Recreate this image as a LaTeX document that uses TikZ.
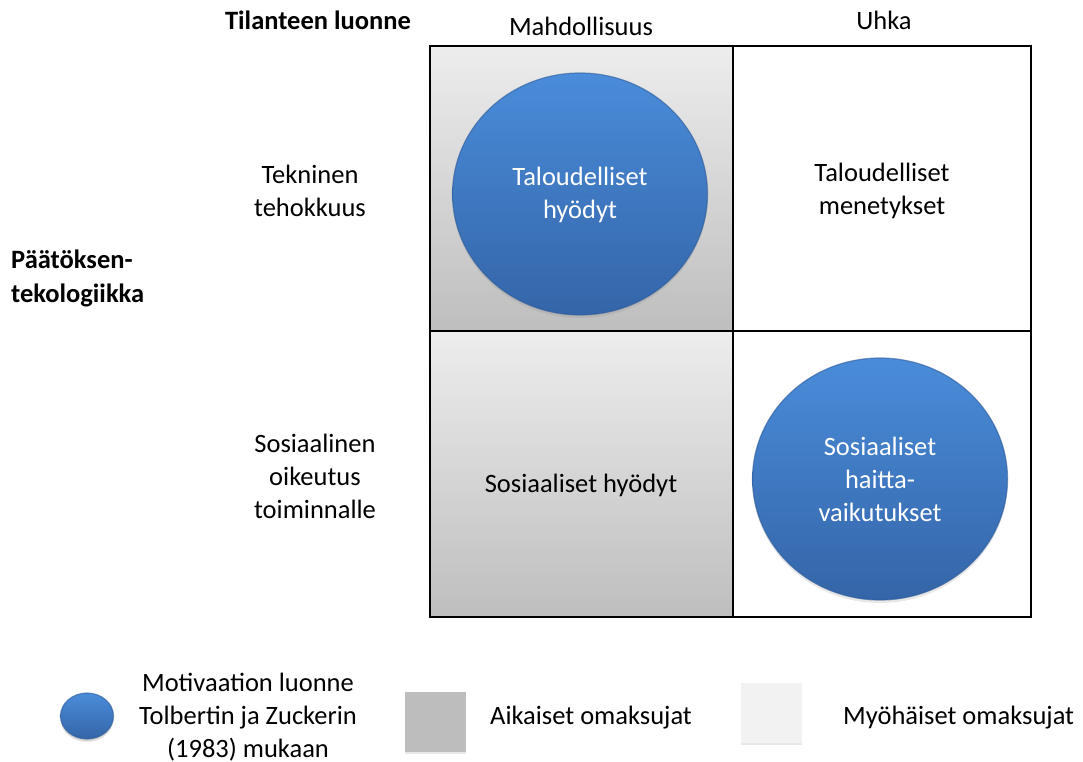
\documentclass[tikz,border=0pt]{standalone}
\usepackage{fontspec}
\setmainfont{Carlito}
\usetikzlibrary{shapes.geometric,shadows}
\definecolor{cellTop}{HTML}{EDEDED}
\definecolor{cellBot}{HTML}{BEBEBE}
\definecolor{ballTop}{HTML}{4A8CDA}
\definecolor{ballBot}{HTML}{3465A8}
\definecolor{ballEdge}{HTML}{2E5C9A}
\definecolor{legDark}{HTML}{BDBDBD}
\definecolor{legLight}{HTML}{F2F2F2}
\tikzset{
  txt/.style={font=\fontsize{26.5}{33}\selectfont, align=center, inner sep=0pt},
  btxt/.style={font=\fontsize{26.5}{34}\selectfont\bfseries, align=left, inner sep=0pt},
  wtxt/.style={txt, text=white},
  cell/.style={draw=none, minimum width=303pt, minimum height=285pt, inner sep=0pt,
    top color=cellTop, bottom color=cellBot},
  ball/.style={ellipse, minimum width=255pt, minimum height=242pt, inner sep=0pt,
    top color=ballTop, bottom color=ballBot, draw=ballEdge, draw opacity=0.6, line width=1.2pt,
    drop shadow={shadow xshift=0pt, shadow yshift=-3pt, opacity=0.18}},
  smallball/.style={ball, minimum width=53pt, minimum height=46pt,
    drop shadow={shadow xshift=0pt, shadow yshift=-2pt, opacity=0.18}},
  legbox/.style={minimum width=61pt, minimum height=60pt, inner sep=0pt, draw=none,
    drop shadow={shadow xshift=0pt, shadow yshift=-2pt, opacity=0.18}},
  gridline/.style={line width=1.6pt, black},
}
\begin{document}
\begin{tikzpicture}[x=1pt, y=-1pt]
\useasboundingbox (0,0) rectangle (1083,762);
\fill[white] (0,0) rectangle (1083,762);
% shaded cells
\node[cell] (c11) at (581.5,188.5) {};
\node[cell] (c21) at (581.5,474) {};
% grid
\coordinate (g00) at (430,46);
\coordinate (g20) at (1031,46);
\coordinate (g01) at (430,331);
\coordinate (g21) at (1031,331);
\coordinate (g02) at (430,617);
\coordinate (g22) at (1031,617);
\coordinate (g10) at (733,46);
\coordinate (g12) at (733,617);
\draw[gridline] (g00) rectangle (g22);
\draw[gridline] (g01) -- (g21);
\draw[gridline] (g10) -- (g12);
% balls
\node[ball] (b1) at (580,194) {};
\node[wtxt] (b1t) at (580,195) {Taloudelliset\\hyödyt};
\node[ball] (b2) at (880,479) {};
\node[wtxt] (b2t) at (880,479) {Sosiaaliset\\haitta-\\vaikutukset};
% headers
\node[btxt, anchor=east] (h0) at (411,20) {Tilanteen luonne};
\node[txt] (h1) at (581,26) {Mahdollisuus};
\node[txt] (h2) at (884,20) {Uhka};
\node[txt] (r1) at (310,191) {Tekninen\\tehokkuus};
\node[txt] (r2) at (315,476) {Sosiaalinen\\oikeutus\\toiminnalle};
\node[btxt, anchor=west] (pl) at (11,278) {Päätöksen-\\tekologiikka};
\node[txt] (c12t) at (882,191) {Taloudelliset\\menetykset};
\node[txt] (c21t) at (581,485) {Sosiaaliset hyödyt};
% legend
\node[smallball] (lb) at (87,716) {};
\node[txt] (lbt) at (248,717) {Motivaation luonne\\Tolbertin ja Zuckerin\\(1983) mukaan};
\node[legbox, fill=legDark] (ld) at (435,722) {};
\node[txt, anchor=west] (ldt) at (490,718) {Aikaiset omaksujat};
\node[legbox, fill=legLight] (ll) at (771,713) {};
\node[txt, anchor=west] (llt) at (843,718) {Myöhäiset omaksujat};
\end{tikzpicture}
\end{document}
